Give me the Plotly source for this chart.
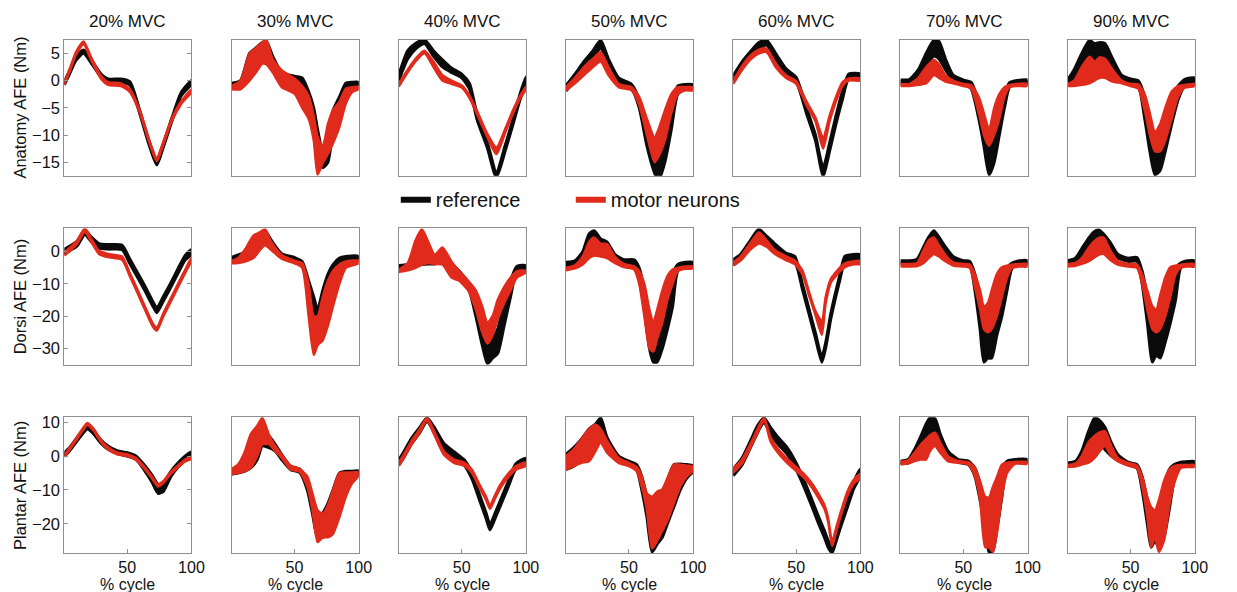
import plotly.graph_objects as go

# ---------------- data ----------------
MVC_LABELS = ["20% MVC", "30% MVC", "40% MVC", "50% MVC", "60% MVC", "70% MVC", "90% MVC"]
ROW_LABELS = ["Anatomy AFE (Nm)", "Dorsi AFE (Nm)", "Plantar AFE (Nm)"]
SERIES_NAMES = ["reference", "motor neurons"]
X_TICKS = [50, 100]
Y_TICKS = [[5, 0, -5, -10, -15], [0, -10, -20, -30], [10, 0, -10, -20]]
Y_RANGES = [[-17.5, 7.5], [-35, 7.2], [-28.7, 11.5]]
X_RANGE = [1, 100]

# ---- Anatomy AFE (row 1); one list per column ----
ANAT_X = [
    [1, 5, 10, 16, 22, 30, 35, 45, 52, 60, 67, 73, 78, 85, 92, 100],
    [1, 8, 15, 20, 25, 28, 33, 40, 50, 56, 61, 65, 68, 72, 76, 80, 85, 90, 95, 100],
    [1, 8, 14, 21, 28, 35, 42, 50, 56, 62, 70, 77, 84, 90, 95, 100],
    [1, 8, 15, 22, 28, 34, 42, 52, 58, 64, 70, 73, 78, 83, 88, 94, 100],
    [1, 8, 15, 21, 27, 34, 42, 50, 58, 65, 71, 76, 81, 86, 91, 100],
    [1, 8, 15, 21, 27, 31, 36, 42, 50, 56, 62, 66, 70, 74, 78, 82, 86, 92, 100],
    [1, 6, 12, 18, 22, 26, 30, 36, 43, 50, 56, 61, 65, 69, 73, 77, 82, 87, 92, 100],
]
ANAT_REF_LO = [
    [-0.8, 1.2, 3.7, 5.0, 3.2, 0.5, -0.3, -0.3, -0.8, -6.3, -11.8, -15.5, -12.3, -7.3, -2.8, -0.6],
    [-1.0, -0.8, 1.5, 2.5, 4.0, 4.0, 2.5, 0.5, 0.0, -1.0, -4.5, -8.0, -12.0, -16.0, -15.0, -9.5, -5.0, -1.2, -0.8, -0.8],
    [0, 4, 5.8, 6.8, 4.5, 2.5, 1.5, 0.5, -1.5, -7.2, -12.4, -17.8, -12.8, -8, -3.8, -0.3],
    [-1.9, 0, 2, 4, 6, 2.5, -0.5, -1.5, -5, -12, -17, -18.4, -15, -9, -2.5, -1.5, -1.6],
    [0, 2.5, 4.5, 6, 6.5, 4, 1.3, -0.2, -6, -11, -17.5, -13, -8, -3.5, 0.4, 0.5],
    [-0.6, -0.6, 0.5, 2.5, 4.5, 4, 2, 0, -0.5, -1.5, -7, -12, -17.3, -15, -10, -5, -1.2, -0.7, -0.6],
    [-0.6, -0.3, 0, 1.5, 2.5, 3, 2.5, 1, 0, -0.5, -1, -7, -13, -17.3, -16.5, -13, -8, -3.5, -1, -0.4],
]
ANAT_REF_HI = [
    [-0.2, 1.8, 4.3, 5.6, 3.8, 1.1, 0.3, 0.3, -0.2, -5.7, -11.2, -14.9, -11.7, -6.7, -2.2, 0.0],
    [-0.5, 0.0, 5.0, 6.0, 7.0, 7.3, 4.5, 1.5, 0.8, 0.5, -2.0, -5.0, -9.0, -13.0, -10.0, -5.5, -3.0, -0.5, -0.3, -0.3],
    [1, 5.5, 6.8, 7.5, 5.5, 3.8, 2.3, 1.2, -0.5, -6.2, -11.4, -16.8, -11.8, -7, -2.8, 0.7],
    [-0.9, 1.2, 3.5, 5.5, 7.4, 4, 0.5, -0.7, -3.5, -9, -13, -14.5, -10, -5, -1, -0.7, -0.8],
    [0.9, 3.5, 5.5, 7, 7.4, 5, 2.2, 0.6, -5, -10, -16, -11.5, -6.5, -2, 1.2, 1.2],
    [0.1, 0.2, 2, 5, 7.4, 7.2, 4, 1, 0.1, -0.3, -4, -8, -12, -10, -6, -2.5, -0.4, 0, 0.1],
    [0.1, 2, 5, 7.4, 6.8, 7, 6.8, 4, 1, 0.3, 0, -3, -8, -12, -11, -7, -3, -1, 0.2, 0.5],
]
ANAT_MN_LO = [
    [-0.8, 1.5, 4.7, 6.7, 3.7, 0.2, -0.8, -1.0, -2.1, -6.1, -11.3, -14.8, -11.8, -7.3, -4.3, -2.1],
    [-1.6, -1.6, 0.0, 1.5, 3.1, 3.0, 1.5, -1.2, -2.4, -5.0, -7.0, -11.0, -17.3, -15.2, -13.5, -11.5, -8.5, -4.2, -2.1, -1.6],
    [-1.1, 1.5, 3.5, 5, 2.5, 0, -0.6, -1.3, -3.2, -6.2, -10.4, -13.5, -9.5, -6, -3.5, -1.6],
    [-1.8, -0.5, 1, 2.5, 3.5, 1, -1.2, -1.8, -4.5, -10, -15, -14, -11, -6, -2.5, -1.8, -1.8],
    [-0.6, 2, 4, 5, 5.2, 2.5, 0.5, -0.6, -4.5, -7.5, -12.5, -7.5, -3.8, -1, 0, 0],
    [-1, -1, -0.8, -0.5, 1, 0.5, -0.2, -0.5, -1, -1.5, -6, -10, -12, -10, -7, -3, -1.2, -1, -1],
    [-1, -1, -0.8, -0.5, 0, 0.5, 0.5, -0.2, -0.5, -1, -1.5, -5.5, -10, -13, -13, -11, -7, -3, -1.3, -1],
]
ANAT_MN_HI = [
    [-0.3, 2.0, 5.2, 7.2, 4.2, 0.7, -0.3, -0.5, -1.6, -5.6, -10.8, -14.2, -11.3, -6.8, -3.8, -1.6],
    [-1.0, 0.0, 5.0, 6.0, 7.0, 7.5, 4.0, 1.9, 0.4, -1.0, -2.8, -6.5, -10.3, -12.1, -8.0, -5.4, -3.9, -1.5, -1.2, -1.2],
    [-0.6, 2, 4, 5.5, 3.5, 1, 0, -0.9, -2.7, -5.6, -9.8, -12.3, -8.8, -5.4, -3, -1.1],
    [-1.2, 0.5, 2.5, 4, 5.2, 2.5, -0.6, -1.2, -3, -7, -10.5, -9, -5.5, -2.5, -1.2, -1.2, -1.2],
    [-0.1, 2.7, 4.7, 5.7, 5.9, 3.2, 1, -0.1, -3.8, -6.8, -10.5, -6.5, -3, -0.3, 0.4, 0.4],
    [-0.6, -0.6, 0.5, 2.5, 3.8, 3, 1, 0, -0.6, -0.8, -3, -6, -9, -5, -2.5, -1.2, -0.8, -0.6, -0.6],
    [-0.6, 0, 2.5, 4.4, 3.5, 4.3, 4, 2, 0, -0.6, -0.7, -2.5, -6, -9.5, -8, -5, -2, -1, -0.8, -0.6],
]

# ---- Dorsi AFE (row 2) ----
DORSI_X = [
    [1, 6, 11, 17, 22, 28, 35, 46, 52, 58, 64, 70, 73, 78, 84, 90, 95, 100],
    [1, 6, 12, 18, 23, 27, 32, 40, 50, 56, 61, 65, 68, 72, 76, 80, 85, 90, 100],
    [1, 8, 14, 19, 24, 29, 35, 42, 48, 55, 61, 66, 70, 74, 78, 83, 88, 93, 100],
    [1, 8, 14, 19, 23, 28, 33, 39, 46, 54, 58, 62, 66, 69, 72, 76, 80, 84, 88, 94, 100],
    [1, 7, 14, 21, 27, 33, 42, 49, 55, 60, 65, 70, 73, 77, 80, 84, 88, 94, 100],
    [1, 8, 14, 19, 23, 27, 31, 36, 42, 50, 55, 59, 63, 66, 69, 72, 76, 80, 84, 88, 94, 100],
    [1, 7, 12, 17, 21, 25, 29, 34, 40, 48, 55, 59, 63, 67, 70, 73, 77, 81, 85, 89, 94, 100],
]
DORSI_REF_LO = [
    [-0.7, 0.5, 1.8, 5.3, 3.1, 1.1, 0.8, 0.6, -3.7, -7.9, -12.3, -16.9, -18.9, -15.4, -11, -6.3, -2.6, -0.7],
    [-2.7, -2, -1.5, 0, 1, 2.5, 1.5, -1.6, -2.6, -4, -12, -18, -21.3, -17, -12, -7, -3.5, -2.5, -2.2],
    [-5.3, -5, -4.5, -4, -3.8, -3.8, -3.5, -5, -7.5, -11, -20, -29, -34.7, -33, -31.6, -23, -14, -6, -5.3],
    [-4.3, -4, -2.5, -1.5, -1, -0.5, -1, -2, -3.5, -3.8, -8, -18, -30, -34.2, -34.2, -30, -24, -17, -6, -4.3, -4.3],
    [-4.1, -2.3, 1.7, 5.4, 3.2, 1.0, -2.0, -3.1, -11.8, -19.3, -26.8, -34.3, -29.8, -20.8, -15.4, -8.8, -3.0, -2.5, -2.5],
    [-3.8, -3.8, -3.5, -2, -0.5, 1.5, 0.5, -1, -2.8, -3.8, -4.2, -12, -24, -34.2, -33, -33, -26, -20, -12, -5, -3.8, -3.8],
    [-3.8, -3.5, -2.5, -1.5, 0, 1, 0, -1, -2, -3, -3, -10, -22, -34.2, -32, -33, -28, -22, -15, -5, -3.8, -3.8],
]
DORSI_REF_HI = [
    [0.7, 1.9, 3.2, 6.7, 4.5, 2.5, 2.2, 2.0, -2.3, -6.5, -10.9, -15.5, -17.5, -14, -9.6, -4.9, -1.2, 0.7],
    [-1.8, -1, 0, 2, 5, 6.5, 3.5, -0.6, -1.8, -3, -9, -14, -18, -12, -7, -4, -2, -1.5, -1.4],
    [-4.3, -4, -3.5, -3, -2.8, -2.8, -2, -3.8, -6, -9.5, -16, -24, -29, -27, -24, -16, -9, -4.5, -4.3],
    [-3.3, -2.8, 0, 5.5, 6.5, 4, 3, -0.8, -2.5, -2.5, -5, -12, -22, -26, -26, -20, -13, -7, -4, -3.3, -3.3],
    [-2.5, -0.7, 3.3, 7.0, 4.8, 2.6, -0.4, -1.5, -10.2, -17.7, -25.2, -32.7, -28.2, -19.2, -13.8, -7.2, -1.4, -0.9, -0.9],
    [-2.8, -2.8, -2.3, 1.5, 4.5, 6.5, 4.5, 1.5, -1.5, -2.8, -3, -7, -15, -22, -24, -22, -16, -10, -5, -3.5, -2.8, -2.8],
    [-2.8, -2, 1, 4, 6, 6.8, 5.5, 3, -0.8, -2, -1.8, -6, -14, -23, -22, -22, -16, -10, -5, -3.5, -2.8, -2.8],
]
DORSI_MN_LO = [
    [-1.2, 0.5, 2.5, 6.2, 3, -0.7, -1.7, -2.5, -7.6, -12.8, -18.2, -23.3, -24.5, -20.2, -15.4, -10.6, -6.7, -2.8],
    [-3.6, -3.5, -3, -2, 0.5, 2, 0.5, -2.2, -3.6, -5, -20, -32, -29, -27.5, -23, -17, -10, -5, -3.6],
    [-6.3, -5.8, -5, -4, -3.5, -3.8, -4, -8, -9, -12, -18, -25, -28.5, -26, -21, -16, -12, -8, -6.5],
    [-5.8, -5.2, -4, -2, -1.2, -1.5, -2, -3.5, -4.8, -5.5, -10, -20, -30, -31, -27, -22, -15, -10, -6, -5.3, -5.2],
    [-4.3, -2.6, 0.5, 2.5, 1.5, -0.6, -2.6, -3.9, -7.1, -13.6, -19.6, -25.8, -16, -9.6, -8, -6.1, -4.8, -4.0, -3.8],
    [-4.6, -4.6, -4.5, -3.5, -2, -0.7, -1.5, -3, -4.3, -4.6, -5, -11, -18, -24, -25, -24, -20, -14, -8, -5, -4.6, -4.6],
    [-4.6, -4.4, -3.8, -3, -2, -1, -0.7, -2.5, -4, -4.6, -5, -10, -18, -24, -25, -24, -20, -14, -7, -5, -4.6, -4.6],
]
DORSI_MN_HI = [
    [-0.2, 1.5, 3.5, 7.2, 4, 0.3, -0.7, -1.5, -6.6, -11.8, -17.2, -22.3, -23.5, -19.2, -14.4, -9.6, -5.7, -1.8],
    [-2.8, -2, 1, 5, 6, 7, 3, -1, -2.8, -3.5, -10, -20, -20, -14, -9, -6, -4, -3, -2.8],
    [-5.5, -3.5, 3.5, 7, 3, -1, 1.3, -3, -6, -9, -12, -17, -22, -20, -15, -11, -8, -6, -5.9],
    [-5, -4.2, -1.5, 3, 4.4, 2.5, 2.4, -1.5, -3.8, -4.5, -6, -10, -18, -22, -18, -12, -7.5, -5.5, -5, -4.6, -4.5],
    [-3.3, -1.4, 2.5, 6, 3.5, 0.6, -1.4, -2.7, -5.9, -12.4, -18.4, -21.5, -14, -8.4, -6.8, -4.9, -3.6, -3.0, -2.8],
    [-3.8, -3.8, -3.5, 0.5, 3.5, 4.4, 2, -1, -3.3, -3.8, -4, -7, -12, -17, -16, -12, -7, -4.8, -4.3, -4, -3.8, -3.8],
    [-3.8, -3.5, -2, 1, 3, 4.2, 4.4, 0.5, -2.8, -3.8, -4, -7, -12, -17, -18, -13.6, -8, -4.8, -4.3, -4, -3.8, -3.8],
]

# ---- Plantar AFE (row 3) ----
PLANT_X = [
    [1, 5, 10, 14, 19, 24, 29, 35, 42, 50, 57, 63, 69, 74, 78, 84, 90, 95, 100],
    [1, 6, 11, 16, 21, 25, 30, 35, 40, 47, 54, 60, 64, 68, 72, 76, 80, 85, 90, 95, 100],
    [1, 5, 11, 17, 23, 29, 36, 44, 52, 58, 64, 69, 72, 76, 80, 86, 92, 100],
    [1, 7, 13, 19, 24, 28, 33, 42, 50, 56, 60, 64, 68, 72, 76, 80, 85, 90, 95, 100],
    [1, 8, 15, 20, 25, 30, 36, 43, 50, 56, 62, 67, 72, 75, 78, 81, 85, 90, 95, 100],
    [1, 7, 12, 17, 21, 24, 28, 32, 38, 46, 54, 59, 63, 67, 70, 73, 76, 80, 84, 90, 100],
    [1, 7, 12, 17, 22, 26, 30, 35, 40, 48, 55, 59, 63, 66, 69, 72, 76, 80, 84, 89, 95, 100],
]
PLANT_REF_LO = [
    [0, 1.5, 4, 6, 8, 6.5, 4, 2, 0.8, 0, -1, -4, -7.5, -11, -10.5, -6, -3, -1, 0],
    [-5.3, -5, -4.5, -3.5, -1, 3, 2.5, 1.5, -1, -4, -4.8, -10, -17, -24, -24, -23, -19, -13, -8.5, -6.5, -5.5],
    [-2.7, -0.3, 3.7, 6.7, 10.2, 6.7, 2.2, -0.3, -2.7, -6.7, -13.1, -18.4, -21.8, -18.4, -14.8, -9.3, -3.9, -2.2],
    [-4, -3, -1, 1, 3, 4.5, 2, -1, -2.5, -4, -10, -18, -28.3, -26, -24, -20, -15, -10, -6.5, -4.5],
    [-5.8, -2.5, 3, 7, 10, 6.5, 3.5, 0.5, -4, -9, -14.6, -19.5, -24, -27, -28.6, -25.3, -20.5, -15, -9.5, -5.8],
    [-2.3, -2, 0, 2.5, 4.5, 5.5, 5, 2.5, -0.5, -1.8, -2.5, -6, -13, -21, -28.3, -28, -22, -12, -3, -1.8, -1.8],
    [-2.8, -2.8, -1, 1, 3, 3.5, 2, 0, -1, -2.5, -3.5, -10, -20, -26.9, -25, -26.9, -24, -16, -7, -2.5, -2.3, -2.3],
]
PLANT_REF_HI = [
    [1, 2.5, 5, 7, 9.3, 7.5, 5, 3, 1.6, 1, 0, -2.5, -5.5, -8.3, -8, -4.5, -1.8, 0, 1.2],
    [-4.3, -4, -3.3, 2, 6, 8, 6, 3.5, 0.5, -3, -3.8, -7, -13, -20, -17, -14, -10, -5, -4.5, -4.5, -4.3],
    [-1.1, 1.3, 5.3, 8.3, 11.3, 8.3, 3.8, 1.3, -1.1, -5.1, -11.5, -16.8, -20.2, -16.8, -13.2, -7.7, -2.3, -0.6],
    [0.5, 2.5, 5, 8, 9.5, 11.3, 5.5, 0, -1.5, -2.5, -6, -12, -19, -15, -11, -7, -2.5, -2.3, -2.5, -2.8],
    [-3.8, -0.5, 5, 9, 11.3, 8.5, 5.5, 2.5, -2, -7, -12.6, -17.5, -22, -25, -27, -23.3, -18.5, -13, -7.5, -3.8],
    [-1.5, -1, 2, 6, 9.5, 11.3, 11, 6.5, 1.5, -1, -1.5, -3.5, -8, -14, -18, -15, -9, -3.5, -1.5, -1, -1],
    [-2, -1.5, 1.5, 7, 11.3, 10.5, 8.5, 4, 0.5, -1.8, -2.5, -6, -13, -18, -16, -16, -10, -4, -2.5, -1.8, -1.6, -1.6],
]
PLANT_MN_LO = [
    [-0.3, 1.8, 4.5, 6.8, 9.2, 7.4, 4.4, 2, 0.5, 0, -1.2, -3.6, -6.5, -9, -8, -5.2, -3.2, -1.6, -0.8],
    [-5.3, -5, -4.5, -3.5, 0, 3.5, 3.5, 1.5, -0.5, -4, -4.6, -9, -16, -25.4, -24, -24, -23, -18, -12, -8, -5.8],
    [-2.9, -0.5, 3.5, 6.8, 10.5, 6, 0.5, -2, -2.9, -5, -9.5, -13, -15.6, -12.5, -9.5, -6.3, -4, -2.9],
    [-3.9, -3, -2, -1.5, 1.5, 4, 1, -2, -3, -4.5, -9, -16, -27.3, -25, -22, -19, -14, -9, -6, -4.4],
    [-4.9, -2.1, 2.9, 6.9, 10.7, 4.4, 0.9, -2, -4.4, -6.4, -9.1, -12.1, -15.6, -19.6, -26.6, -22.6, -17.4, -11.6, -8.1, -6.4],
    [-2.3, -2.2, -1.5, -1, -1, 1.5, 3, 1, -1.5, -2, -2.5, -6, -13, -26.9, -27, -28.3, -23, -12, -5, -2.3, -2.3],
    [-3.2, -3, -2.5, -2, -0.5, 1.5, 3, 0, -1.5, -2.8, -3.6, -9, -18, -26.9, -24, -28.3, -25, -15, -8, -3.5, -3.2, -3.2],
]
PLANT_MN_HI = [
    [0.3, 2.4, 5.1, 7.4, 9.8, 8, 5, 2.6, 1.1, 0.6, -0.6, -3, -5.9, -8.4, -7.4, -4.6, -2.6, -1, -0.2],
    [-3.8, -2.5, 1, 6.5, 9, 11.3, 6.4, 3, 0.5, -2.8, -3.8, -6, -11, -16, -17, -14.5, -10, -5, -4.8, -4.8, -4.8],
    [-1.9, 0.5, 4.5, 7.8, 11.3, 7, 1.5, -1, -1.9, -4, -8.5, -12, -14.6, -11.5, -8.5, -5.3, -3, -1.9],
    [0, 2, 5, 8, 9.3, 8, 4.5, -0.5, -2, -3.2, -6, -11, -12, -10.5, -9.8, -6.5, -2.5, -2.5, -2.8, -3],
    [-3.7, -0.9, 4.1, 8.1, 11.3, 5.6, 2.1, -0.8, -3.2, -5.2, -7.9, -10.9, -14.4, -18.4, -25.4, -21.4, -16.2, -10.4, -6.9, -5.2],
    [-1.7, -1.2, 1, 3.5, 5, 6.2, 6.9, 4, 0, -1.4, -1.8, -3.5, -7.5, -12, -12.2, -9, -6.3, -2.5, -1.9, -1.7, -1.7],
    [-2.6, -2.2, 0, 4, 6, 7, 7.4, 3, -0.5, -2, -2.8, -6, -12, -15, -16, -13, -7.3, -4, -2.9, -2.6, -2.6, -2.6],
]

ROWS = [
    (ANAT_X, ANAT_REF_LO, ANAT_REF_HI, ANAT_MN_LO, ANAT_MN_HI),
    (DORSI_X, DORSI_REF_LO, DORSI_REF_HI, DORSI_MN_LO, DORSI_MN_HI),
    (PLANT_X, PLANT_REF_LO, PLANT_REF_HI, PLANT_MN_LO, PLANT_MN_HI),
]

# ---------------- layout / style ----------------
W, H = 1237, 592
COL_LEFT = [65, 234, 403, 572, 741, 910, 1079]
PANEL_W = 128.5
ROW_TOP = [36, 226, 416]
PANEL_H = 137
BLACK = "#0b0b0b"
RED = "#e02b1c"
FRAME = "#8f8f8f"
FONT = "Liberation Sans, Arial, Helvetica, sans-serif"
TXT = "#111111"

fig = go.Figure()


def band(x, lo, hi):
    xs = list(x) + list(x)[::-1]
    ys = list(hi) + list(lo)[::-1]
    return xs, ys


for r, (XS, RLO, RHI, MLO, MHI) in enumerate(ROWS):
    for c in range(7):
        n = r * 7 + c + 1
        suffix = "" if n == 1 else str(n)
        x = XS[c]
        for arr, nm in ((RLO, "ref_lo"), (RHI, "ref_hi"), (MLO, "mn_lo"), (MHI, "mn_hi")):
            assert len(arr[c]) == len(x), (r, c, nm, len(arr[c]), len(x))
        for lo, hi, col, lw in ((RLO[c], RHI[c], BLACK, 3.0), (MLO[c], MHI[c], RED, 2.4)):
            xs, ys = band(x, lo, hi)
            fig.add_trace(go.Scatter(
                x=xs, y=ys, mode="lines", fill="toself", fillcolor=col,
                line=dict(color=col, width=lw, shape="spline", smoothing=0.6),
                hoverinfo="skip", showlegend=False,
                xaxis="x" + suffix, yaxis="y" + suffix,
            ))
        L = COL_LEFT[c]
        T = ROW_TOP[r]
        bottom_row = (r == 2)
        first_col = (c == 0)
        fig.layout["xaxis" + suffix] = dict(
            domain=[L / W, (L + PANEL_W) / W], anchor="y" + suffix,
            range=X_RANGE, showgrid=False, zeroline=False,
            showline=True, linecolor=FRAME, linewidth=1, mirror=True,
            ticks="inside" if bottom_row else "", ticklen=4, tickcolor=FRAME,
            tickvals=X_TICKS, showticklabels=bottom_row,
            tickfont=dict(size=16, color=TXT, family=FONT),
        )
        fig.layout["yaxis" + suffix] = dict(
            domain=[1 - (T + PANEL_H) / H, 1 - T / H], anchor="x" + suffix,
            range=Y_RANGES[r], showgrid=False, zeroline=False,
            showline=True, linecolor=FRAME, linewidth=1,
            mirror="ticks" if first_col else True,
            ticks="inside" if first_col else "", ticklen=4, tickcolor=FRAME,
            tickvals=Y_TICKS[r], showticklabels=first_col,
            tickfont=dict(size=16.5, color=TXT, family=FONT),
        )

# legend entries
for nm, col in zip(SERIES_NAMES, (BLACK, RED)):
    fig.add_trace(go.Scatter(x=[None], y=[None], mode="lines", name=nm,
                             line=dict(color=col, width=6), hoverinfo="skip"))

annotations = []
for c, lab in enumerate(MVC_LABELS):
    cx = (COL_LEFT[c] + PANEL_W / 2) / W
    annotations.append(dict(text=lab, x=cx, y=1 - 18 / H, xanchor="center", yanchor="middle",
                            xref="paper", yref="paper", showarrow=False,
                            font=dict(size=17, color=TXT, family=FONT)))
    annotations.append(dict(text="% cycle", x=cx, y=1 - 584 / H, xanchor="center", yanchor="middle",
                            xref="paper", yref="paper", showarrow=False,
                            font=dict(size=16, color=TXT, family=FONT)))
for r, lab in enumerate(ROW_LABELS):
    annotations.append(dict(text=lab, x=20 / W, y=1 - (ROW_TOP[r] + PANEL_H / 2) / H,
                            xanchor="center", yanchor="middle",
                            xref="paper", yref="paper", showarrow=False, textangle=-90,
                            font=dict(size=16.5, color=TXT, family=FONT)))

fig.update_layout(
    width=W, height=H, margin=dict(l=0, r=0, t=0, b=0),
    paper_bgcolor="white", plot_bgcolor="white",
    annotations=annotations,
    showlegend=True,
    legend=dict(orientation="h", x=400 / W, y=1 - 197 / H, xanchor="left", yanchor="middle",
                font=dict(size=20, color=TXT, family=FONT),
                entrywidth=130, entrywidthmode="pixels", bgcolor="rgba(0,0,0,0)"),
)

fig.write_html("out.html", config={"displayModeBar": False},
               post_script="document.body.style.margin='0';document.body.style.padding='0';"
                           "document.body.style.overflow='hidden';")
